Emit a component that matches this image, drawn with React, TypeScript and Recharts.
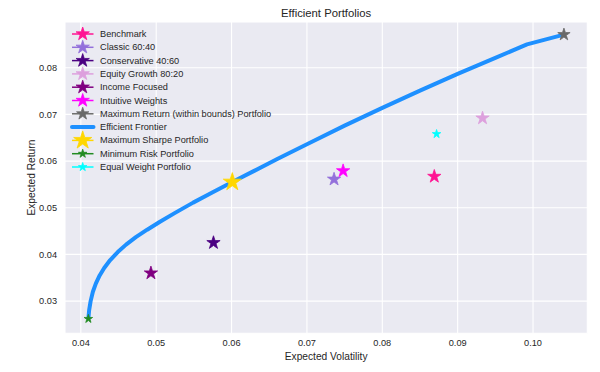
import React from 'react';
import { ScatterChart, Scatter, XAxis, YAxis, CartesianGrid } from 'recharts';

// ---- data ----
const portfolioNames = [
  'Benchmark',
  'Classic 60:40',
  'Conservative 40:60',
  'Equity Growth 80:20',
  'Income Focused',
  'Intuitive Weights',
  'Maximum Return (within bounds) Portfolio',
];
const portfolioVol = [0.0869, 0.0736, 0.0576, 0.0933, 0.0493, 0.0748, 0.1041];
const portfolioRet = [0.0567, 0.0561, 0.0425, 0.0692, 0.0360, 0.0579, 0.0871];

const frontierVol = [
  0.0410, 0.0411, 0.0413, 0.0416, 0.0420, 0.0425, 0.0431, 0.0439, 0.0449, 0.0460,
  0.0473, 0.0488, 0.0505, 0.0525, 0.0549, 0.0575, 0.0601, 0.0630, 0.0660, 0.0700,
  0.0750, 0.0800, 0.0850, 0.0900, 0.0950, 0.0992, 0.1041,
];
const frontierRet = [
  0.0262, 0.0280, 0.0300, 0.0320, 0.0338, 0.0355, 0.0371, 0.0388, 0.0405, 0.0421,
  0.0437, 0.0453, 0.0470, 0.0489, 0.0511, 0.0533, 0.0555, 0.0579, 0.0604, 0.0636,
  0.0676, 0.0714, 0.0751, 0.0787, 0.0821, 0.0850, 0.0871,
];

const specialNames = ['Maximum Sharpe Portfolio', 'Minimum Risk Portfolio', 'Equal Weight Portfolio'];
const specialVol = [0.0601, 0.0410, 0.0872];
const specialRet = [0.0555, 0.0262, 0.0658];

const frontierName = 'Efficient Frontier';
const xTicks = [0.04, 0.05, 0.06, 0.07, 0.08, 0.09, 0.1];
const yTicks = [0.03, 0.04, 0.05, 0.06, 0.07, 0.08];
const titleText = 'Efficient Portfolios';
const xLabel = 'Expected Volatility';
const yLabel = 'Expected Return';

// ---- styles ----
const portfolioColors = ['#FF1493', '#9370DB', '#4B0082', '#DDA0DD', '#800080', '#FF00FF', '#696969'];
const portfolioSizes = [7, 7, 7, 7, 7, 7, 6.5];
const specialColors = ['#FFD700', '#228B22', '#00FFFF'];
const specialSizes = [9.5, 4.5, 4.5];
const frontierColor = '#1E90FF';
const FONT = '"Liberation Sans", Arial, Helvetica, sans-serif';
const TEXT = '#262626';

const W = 600;
const H = 372;
const PLOT_L = 65;
const PLOT_R = 587.3;
const PLOT_T = 22;
const PLOT_B = 333.3;
const YW = 60;
const XH = 30;

function starPoints(cx: number, cy: number, r: number): string {
  const ri = r * 0.381966;
  const pts: string[] = [];
  for (let i = 0; i < 10; i++) {
    const ang = -Math.PI / 2 + (i * Math.PI) / 5;
    const rr = i % 2 === 0 ? r : ri;
    pts.push(`${(cx + rr * Math.cos(ang)).toFixed(2)},${(cy + rr * Math.sin(ang)).toFixed(2)}`);
  }
  return pts.join(' ');
}

const makeStar = (color: string, r: number) => (props: any) => {
  const { cx, cy } = props;
  if (cx == null || cy == null) return <g />;
  return <polygon points={starPoints(cx, cy, r)} fill={color} stroke={color} strokeWidth={0.8} strokeLinejoin="miter" />;
};

const emptyShape = () => <g />;

const frontierData = frontierVol.map((v, i) => ({ x: v, y: frontierRet[i] }));

type LegendItem = { name: string; color: string; kind: 'star' | 'line'; r: number };
const legendItems: LegendItem[] = [
  ...portfolioNames.map((n, i) => ({ name: n, color: portfolioColors[i], kind: 'star' as const, r: portfolioSizes[i] })),
  { name: frontierName, color: frontierColor, kind: 'line' as const, r: 0 },
  ...specialNames.map((n, i) => ({ name: n, color: specialColors[i], kind: 'star' as const, r: specialSizes[i] })),
];

export default function App() {
  const fmt = (v: number) => v.toFixed(2);
  return (
    <div style={{ position: 'absolute', left: 0, top: 0, width: W, height: H, background: '#fff', fontFamily: FONT }}>
      <ScatterChart
        width={W}
        height={H}
        margin={{ top: PLOT_T, right: W - PLOT_R, bottom: H - PLOT_B - XH, left: PLOT_L - YW }}
      >
        <CartesianGrid fill="#EAEAF2" stroke="#FFFFFF" strokeWidth={1.1} />
        <XAxis
          type="number"
          dataKey="x"
          domain={[0.0379, 0.1072]}
          ticks={xTicks}
          allowDataOverflow
          height={XH}
          axisLine={false}
          tickLine={false}
          tickSize={0}
          tickMargin={6}
          tickFormatter={fmt}
          tick={{ fill: TEXT, fontSize: 9.2, fontFamily: FONT }}
        />
        <YAxis
          type="number"
          dataKey="y"
          domain={[0.0231, 0.0898]}
          ticks={yTicks}
          allowDataOverflow
          width={YW}
          axisLine={false}
          tickLine={false}
          tickSize={0}
          tickMargin={8}
          tickFormatter={fmt}
          tick={{ fill: TEXT, fontSize: 9.2, fontFamily: FONT }}
        />
        <Scatter
          name={frontierName}
          data={frontierData}
          line={{ stroke: frontierColor, strokeWidth: 4, fill: 'none', strokeLinejoin: 'round' }}
          lineType="joint"
          shape={emptyShape}
          isAnimationActive={false}
        />
        {portfolioNames.map((n, i) => (
          <Scatter
            key={n}
            name={n}
            data={[{ x: portfolioVol[i], y: portfolioRet[i] }]}
            shape={makeStar(portfolioColors[i], portfolioSizes[i])}
            isAnimationActive={false}
          />
        ))}
        {specialNames.map((n, i) => (
          <Scatter
            key={n}
            name={n}
            data={[{ x: specialVol[i], y: specialRet[i] }]}
            shape={makeStar(specialColors[i], specialSizes[i])}
            isAnimationActive={false}
          />
        ))}
      </ScatterChart>
      <svg
        width={W}
        height={H}
        style={{ position: 'absolute', left: 0, top: 0, pointerEvents: 'none' }}
        fontFamily={FONT}
      >
        <text x={(PLOT_L + PLOT_R) / 2} y={12.5} textAnchor="middle" dominantBaseline="central" fontSize={11.3} fill={TEXT}>
          {titleText}
        </text>
        <text x={(PLOT_L + PLOT_R) / 2} y={356.5} textAnchor="middle" dominantBaseline="central" fontSize={10.2} fill={TEXT}>
          {xLabel}
        </text>
        <text
          x={31.7}
          y={(PLOT_T + PLOT_B) / 2}
          textAnchor="middle"
          dominantBaseline="central"
          fontSize={10.2}
          fill={TEXT}
          transform={`rotate(-90 31.7 ${(PLOT_T + PLOT_B) / 2})`}
        >
          {yLabel}
        </text>
        {legendItems.map((it, i) => {
          const cy = 34 + i * 13.3;
          return (
            <g key={it.name}>
              {it.kind === 'line' ? (
                <line x1={72} x2={93.5} y1={cy} y2={cy} stroke={it.color} strokeWidth={4} strokeLinecap="round" />
              ) : (
                <>
                  <line x1={72} x2={93.5} y1={cy} y2={cy} stroke={it.color} strokeWidth={1.5} />
                  <polygon points={starPoints(82.7, cy, it.r)} fill={it.color} stroke={it.color} strokeWidth={0.8} />
                </>
              )}
              <text x={100} y={cy} dominantBaseline="central" fontSize={9.2} fill={TEXT}>
                {it.name}
              </text>
            </g>
          );
        })}
      </svg>
    </div>
  );
}
